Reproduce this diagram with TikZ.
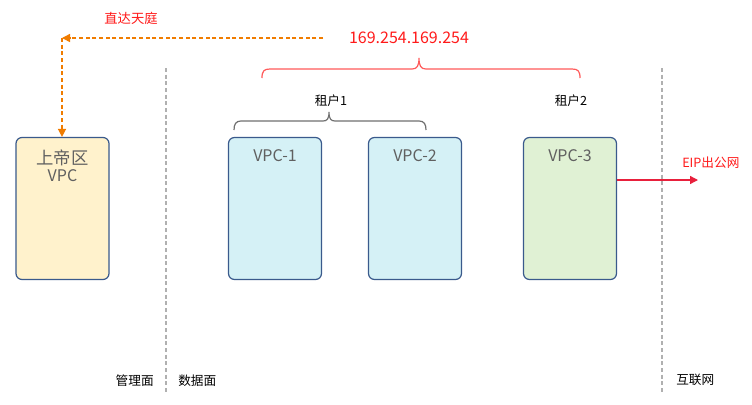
\documentclass[tikz,border=0pt]{standalone}
\usepackage{fontspec}
\setmainfont{Noto Sans CJK SC}
\usetikzlibrary{arrows.meta}
\definecolor{vborder}{HTML}{3A5A8C}
\definecolor{vyellow}{HTML}{FFF2CC}
\definecolor{vblue}{HTML}{D5F1F6}
\definecolor{vgreen}{HTML}{E0F1D4}
\definecolor{vtext}{HTML}{606060}
\definecolor{tred}{HTML}{FF1A1A}
\definecolor{bred}{HTML}{FF5A5A}
\definecolor{aorange}{HTML}{F07C00}
\definecolor{acrimson}{HTML}{E8203C}
\definecolor{dgray}{HTML}{B0B0B0}
\definecolor{bgray}{HTML}{707070}
\tikzset{
  vpcbox/.style={draw=vborder, line width=0.9pt, rounded corners=4.5pt, minimum width=93*0.75pt, minimum height=142*0.75pt, inner sep=0pt},
  vlabel/.style={text=vtext, font=\fontsize{12pt}{14pt}\selectfont, align=center, inner sep=0pt},
  sep/.style={draw=dgray, line width=0.8pt, dash pattern=on 3pt off 2pt},
  plabel/.style={font=\fontsize{9.5pt}{11pt}\selectfont, inner sep=0pt},
  odash/.style={draw=aorange, line width=1.1pt, dash pattern=on 3pt off 2pt, -{Triangle[length=6pt,width=6pt]}},
}
\begin{document}
\begin{tikzpicture}[x=0.75pt,y=-0.75pt]
\useasboundingbox[fill=white] (0,0) rectangle (752,404);
% boxes
\node[vpcbox, fill=vyellow] (god) at (62.5,208.5) {};
\node[vpcbox, fill=vblue] (v1) at (275,208.5) {};
\node[vpcbox, fill=vblue] (v2) at (415,208.5) {};
\node[vpcbox, fill=vgreen] (v3) at (570,208.5) {};
\node[vlabel] (godt) at (62.5,166) {\fontsize{13pt}{15pt}\selectfont 上帝区\\[-1pt]VPC};
\node[vlabel] (v1t) at (275,156) {VPC-1};
\node[vlabel] (v2t) at (415,156) {VPC-2};
\node[vlabel] (v3t) at (570,156) {VPC-3};
% separators
\coordinate (s1a) at (166,68); \coordinate (s1b) at (166,392);
\coordinate (s2a) at (662,68); \coordinate (s2b) at (662,392);
\draw[sep] (s1a) -- (s1b);
\draw[sep] (s2a) -- (s2b);
% bottom labels
\node[plabel, anchor=east] (mgmt) at (154,381) {管理面};
\node[plabel, anchor=west] (data) at (178,381) {数据面};
\node[plabel, anchor=west] (inet) at (676,380) {互联网};
% top: address
\node[text=tred, font=\fontsize{12pt}{14pt}\selectfont, inner sep=0pt] (addr) at (409,38) {169.254.169.254};
\node[text=tred, font=\fontsize{10pt}{12pt}\selectfont, inner sep=0pt] (god2) at (131,18) {直达天庭};
% orange dashed arrows
\coordinate (oa) at (323,38);
\coordinate (ob) at (62,38);
\draw[odash] (oa) -- (ob);
\draw[odash] (ob) -- (god.north -| ob);
% red brace
\coordinate (rb) at (262,78);
\draw[bred, line width=0.9pt] (rb) .. controls (262,71) and (264,69) .. (270,69) -- (412,69)
  .. controls (417,69) and (419,66) .. (419,58)
  .. controls (419,66) and (421,69) .. (426,69) -- (572,69)
  .. controls (578,69) and (580,71) .. (580,78);
% tenant labels
\node[plabel] (t1) at (331,101) {租户1};
\node[plabel] (t2) at (571,101) {租户2};
% gray brace
\coordinate (gb) at (234,130);
\draw[bgray, line width=0.9pt] (gb) .. controls (234,124) and (236,121) .. (241,121) -- (323,121)
  .. controls (327,121) and (329,119) .. (329,112)
  .. controls (329,119) and (331,121) .. (335,121) -- (419,121)
  .. controls (424,121) and (426,124) .. (426,130);
% EIP arrow
\coordinate (eip) at (698,180);
\draw[acrimson, line width=1pt, -{Triangle[length=6pt,width=6pt]}] (v3.east |- eip) -- (eip);
\node[text=tred, font=\fontsize{9.5pt}{11pt}\selectfont, inner sep=0pt, anchor=west] (eipt) at (682,162.5) {EIP出公网};
\end{tikzpicture}
\end{document}
